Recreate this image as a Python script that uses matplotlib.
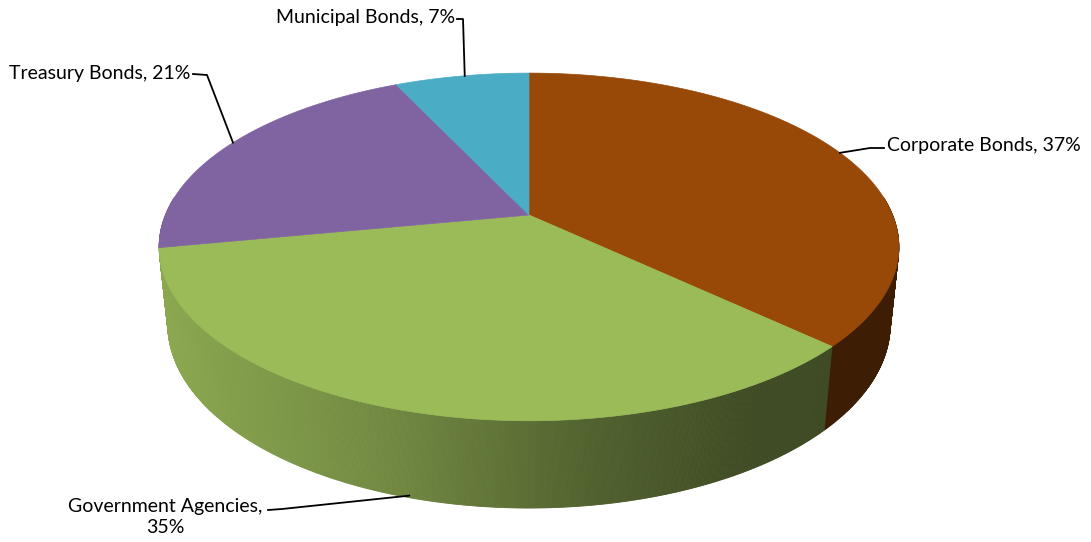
import numpy as np
import matplotlib

matplotlib.use("Agg")
import matplotlib.pyplot as plt
from matplotlib.patches import Polygon

# Daten
labels = ["Corporate Bonds", "Government Agencies", "Treasury Bonds", "Municipal Bonds"]
shares = [37, 35, 21, 7]
colors = ["#984807", "#9bbb59", "#8064a2", "#4bacc6"]

# Perspektive der 3D-Torte (Pixel)
CX, CY = 529, 215
F = 1756.0
SIN_T, COS_T = 0.462, 0.887
DIST = 4.83
HEIGHT = 0.242


def project(theta_deg, depth=0.0):
    t = np.radians(theta_deg)
    zc = DIST + COS_T * np.sin(t) + depth * SIN_T
    yc = -depth * COS_T + SIN_T * np.sin(t)
    xc = np.cos(t)
    return CX + F * xc / zc, CY - F * yc / zc, zc


total = float(sum(shares))
cum = np.cumsum([0] + shares) / total
bounds = 90 - 360 * cum  # im Uhrzeigersinn ab 12 Uhr


def slice_of(theta):
    frac = ((90 - theta) % 360) / 360
    return int(np.clip(np.searchsorted(cum, frac, side="right") - 1, 0, len(shares) - 1))


def shade(x):
    return np.interp(x, [160, 390, 600, 760], [0.90, 0.73, 0.515, 0.40])


fig = plt.figure(figsize=(10.91, 5.42), dpi=100)
ax = fig.add_axes([0, 0, 1, 1])
ax.set_xlim(0, 1091)
ax.set_ylim(542, 0)
ax.axis("off")

# Seitenwand in schmalen Streifen (hinten zuerst)
step = 0.25
strips = []
for a in np.arange(-186, 6, step):
    b = a + step
    x1, y1, z1 = project(a)
    x2, y2, _ = project(b)
    x3, y3, _ = project(b, HEIGHT)
    x4, y4, _ = project(a, HEIGHT)
    i = slice_of(a + step / 2)
    base = np.array(matplotlib.colors.to_rgb(colors[i]))
    col = np.clip(base * shade((x1 + x2) / 2), 0, 1)
    strips.append((z1, [(x1, y1), (x2, y2), (x3, y3), (x4, y4)], col))
strips.sort(key=lambda s: -s[0])
for _, pts, col in strips:
    ax.add_patch(Polygon(pts, closed=True, facecolor=col, edgecolor=col, lw=0.6))

# Deckfläche
for i in range(len(shares)):
    th = np.linspace(bounds[i], bounds[i + 1], 200)
    xs, ys, _ = project(th)
    pts = [(CX, CY)] + list(zip(xs, ys))
    ax.add_patch(Polygon(pts, closed=True, facecolor=colors[i], edgecolor=colors[i], lw=0.5))

# Beschriftungen mit Führungslinien
font = dict(family="Lato", fontsize=14, color="black")
mids = (bounds[:-1] + bounds[1:]) / 2

# Corporate Bonds
px, py, _ = project(mids[0])
ax.plot([px, 870, 884], [py, 148, 148], color="black", lw=1.3)
ax.text(887, 146, f"{labels[0]}, {shares[0]}%", ha="left", va="center", **font)

# Government Agencies (unterer Rand)
px, py, _ = project(mids[1], HEIGHT)
ax.plot([px, 282, 268], [py - 2, 509, 510], color="black", lw=1.3)
ax.text(165, 517, f"{labels[1]},\n{shares[1]}%", ha="center", va="center",
        linespacing=1.35, multialignment="center", **font)

# Treasury Bonds
px, py, _ = project(mids[2])
ax.plot([px + 3, 207, 193], [py - 2, 75, 74], color="black", lw=1.3)
ax.text(190, 73, f"{labels[2]}, {shares[2]}%", ha="right", va="center", **font)

# Municipal Bonds
px, py, _ = project(mids[3])
ax.plot([px + 3, 463, 457], [py, 19, 19], color="black", lw=1.3)
ax.text(455, 18, f"{labels[3]}, {shares[3]}%", ha="right", va="center", **font)

fig.savefig("out.png", dpi=100)
